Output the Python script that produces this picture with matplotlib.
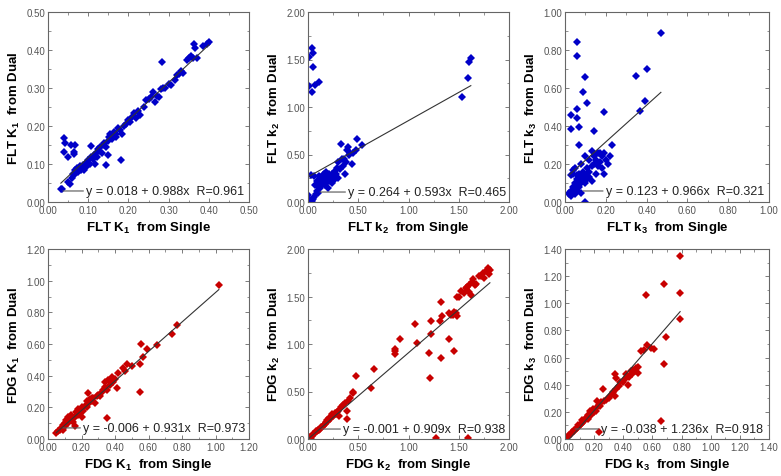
import numpy as np
import matplotlib
matplotlib.use("Agg")
import matplotlib.pyplot as plt
from matplotlib.ticker import MultipleLocator, FormatStrFormatter

plt.rcParams["font.family"] = ["Liberation Sans", "DejaVu Sans"]
plt.rcParams["mathtext.fontset"] = "custom"
plt.rcParams["mathtext.rm"] = "Liberation Sans"
plt.rcParams["mathtext.bf"] = "Liberation Sans:bold"

# ---- FLT K1 ----
flt_k1_single = [0.032, 0.035, 0.041, 0.042, 0.040, 0.050, 0.058, 0.066, 0.065, 0.065, 0.106, 0.118,
                 0.144, 0.149, 0.181, 0.284, 0.362, 0.366,
                 0.050, 0.055, 0.060, 0.062, 0.065, 0.068, 0.070, 0.072, 0.075, 0.078, 0.080, 0.082,
                 0.085, 0.088, 0.090, 0.092, 0.095, 0.098, 0.100, 0.105, 0.108, 0.112, 0.115, 0.120,
                 0.122, 0.125, 0.128, 0.130, 0.135, 0.138, 0.140, 0.145, 0.150, 0.152, 0.155, 0.158,
                 0.160, 0.165, 0.168, 0.170, 0.175, 0.180, 0.185, 0.190, 0.195, 0.200, 0.205, 0.210,
                 0.215, 0.220, 0.225, 0.230, 0.240, 0.245, 0.250, 0.255, 0.260, 0.265, 0.270, 0.275,
                 0.280, 0.285, 0.290, 0.300, 0.305, 0.315, 0.320, 0.325, 0.330, 0.335, 0.345, 0.350,
                 0.355, 0.360, 0.370, 0.385, 0.395, 0.400]
flt_k1_dual = [0.034, 0.033, 0.168, 0.155, 0.132, 0.118, 0.150, 0.150, 0.132, 0.127, 0.147, 0.101,
               0.097, 0.124, 0.110, 0.368, 0.417, 0.405,
               0.052, 0.048, 0.062, 0.075, 0.070, 0.085, 0.080, 0.090, 0.078, 0.088, 0.095, 0.083,
               0.090, 0.098, 0.085, 0.100, 0.092, 0.105, 0.110, 0.100, 0.118, 0.112, 0.125, 0.130,
               0.118, 0.140, 0.135, 0.145, 0.130, 0.150, 0.155, 0.145, 0.160, 0.170, 0.180, 0.165,
               0.175, 0.185, 0.170, 0.180, 0.195, 0.190, 0.178, 0.200, 0.205, 0.215, 0.210, 0.225,
               0.235, 0.220, 0.240, 0.230, 0.250, 0.268, 0.270, 0.275, 0.290, 0.262, 0.280, 0.275,
               0.298, 0.300, 0.300, 0.310, 0.308, 0.320, 0.335, 0.338, 0.345, 0.340, 0.375, 0.380,
               0.385, 0.378, 0.378, 0.410, 0.415, 0.420]

# ---- FLT k2 ----
flt_k2_single = [0.037, 0.010, 0.053, 0.053, 0.013, 0.037, 0.070, 0.113,
                 1.530, 1.595, 1.605, 1.620,
                 0.00, 0.02, 0.03, 0.04, 0.05, 0.03, 0.06, 0.06, 0.08, 0.09, 0.10, 0.10, 0.11, 0.12,
                 0.12, 0.13, 0.14, 0.15, 0.15, 0.16, 0.16, 0.17, 0.18, 0.18, 0.19, 0.20, 0.20, 0.21,
                 0.22, 0.22, 0.23, 0.24, 0.24, 0.25, 0.26, 0.27, 0.28, 0.29, 0.30, 0.30, 0.32, 0.33,
                 0.34, 0.35, 0.36, 0.37, 0.38, 0.39, 0.40, 0.41, 0.42, 0.44, 0.45, 0.48, 0.49, 0.54,
                 0.07, 0.09, 0.11, 0.13, 0.17, 0.14, 0.19, 0.21]
flt_k2_dual = [1.62, 1.53, 1.57, 1.42, 1.22, 1.16, 1.235, 1.26,
               1.105, 1.31, 1.477, 1.52,
               0.07, 0.02, 0.00, 0.01, 0.03, 0.28, 0.27, 0.05, 0.08, 0.12, 0.10, 0.17, 0.20, 0.22,
               0.15, 0.25, 0.18, 0.28, 0.22, 0.30, 0.20, 0.25, 0.22, 0.32, 0.27, 0.24, 0.15, 0.30,
               0.22, 0.27, 0.25, 0.20, 0.30, 0.28, 0.23, 0.33, 0.30, 0.36, 0.25, 0.42, 0.35, 0.61,
               0.45, 0.38, 0.45, 0.30, 0.42, 0.55, 0.58, 0.50, 0.52, 0.40, 0.52, 0.55, 0.66, 0.60,
               0.18, 0.22, 0.27, 0.20, 0.18, 0.23, 0.21, 0.26]

# ---- FLT k3 ----
flt_k3_single = [0.06, 0.06, 0.10, 0.09, 0.11, 0.06, 0.03, 0.06, 0.03, 0.07, 0.19, 0.14, 0.07,
                 0.47, 0.40, 0.35, 0.39, 0.37, 0.23, 0.10,
                 0.02, 0.02, 0.03, 0.03, 0.04, 0.04, 0.05, 0.05, 0.05, 0.06, 0.06, 0.06, 0.07, 0.07,
                 0.07, 0.08, 0.08, 0.08, 0.08, 0.09, 0.09, 0.10, 0.10, 0.10, 0.11, 0.11, 0.12, 0.12,
                 0.12, 0.13, 0.13, 0.14, 0.14, 0.15, 0.15, 0.16, 0.16, 0.17, 0.17, 0.18, 0.18, 0.19,
                 0.19, 0.20, 0.21, 0.22, 0.04, 0.05, 0.06, 0.03, 0.04, 0.13]
flt_k3_dual = [0.84, 0.77, 0.66, 0.58, 0.52, 0.49, 0.46, 0.44, 0.385, 0.395, 0.475, 0.375, 0.30,
               0.89, 0.70, 0.665, 0.53, 0.48, 0.30, 0.00,
               0.04, 0.05, 0.03, 0.06, 0.05, 0.08, 0.04, 0.07, 0.10, 0.06, 0.09, 0.12, 0.08, 0.15,
               0.11, 0.05, 0.10, 0.13, 0.20, 0.12, 0.16, 0.10, 0.14, 0.24, 0.12, 0.18, 0.13, 0.22,
               0.16, 0.19, 0.11, 0.24, 0.20, 0.22, 0.15, 0.26, 0.19, 0.21, 0.26, 0.24, 0.18, 0.26,
               0.15, 0.22, 0.20, 0.24, 0.15, 0.18, 0.14, 0.14, 0.17, 0.27]

# ---- FDG K1 ----
fdg_k1_single = [1.02, 0.77, 0.74, 0.65, 0.57, 0.59, 0.555, 0.55, 0.55, 0.35, 0.16, 0.24, 0.34,
                 0.41, 0.42, 0.45, 0.47, 0.46, 0.50,
                 0.05, 0.06, 0.07, 0.08, 0.09, 0.09, 0.10, 0.10, 0.11, 0.12, 0.12, 0.13, 0.14, 0.14,
                 0.15, 0.16, 0.17, 0.18, 0.18, 0.19, 0.20, 0.20, 0.21, 0.22, 0.23, 0.24, 0.25, 0.26,
                 0.27, 0.28, 0.29, 0.30, 0.31, 0.32, 0.33, 0.34, 0.35, 0.36, 0.37, 0.38, 0.39, 0.40,
                 0.26, 0.23, 0.15]
fdg_k1_dual = [0.975, 0.72, 0.665, 0.595, 0.515, 0.57, 0.60, 0.475, 0.295, 0.135, 0.08, 0.29, 0.36,
               0.325, 0.415, 0.45, 0.475, 0.43, 0.46,
               0.04, 0.05, 0.06, 0.07, 0.06, 0.09, 0.08, 0.10, 0.12, 0.10, 0.14, 0.12, 0.13, 0.15,
               0.13, 0.14, 0.17, 0.15, 0.19, 0.17, 0.14, 0.20, 0.18, 0.21, 0.20, 0.22, 0.25, 0.24,
               0.26, 0.23, 0.27, 0.28, 0.27, 0.30, 0.31, 0.33, 0.31, 0.37, 0.34, 0.39, 0.36, 0.38,
               0.26, 0.24, 0.11]

# ---- FDG k2 ----
fdg_k2_single = [1.27, 1.59, 1.21, 1.32, 1.45, 1.20, 1.40, 0.92, 0.865, 0.865, 0.865, 1.085, 1.065,
                 1.22, 1.22, 1.32, 1.31, 1.33, 1.40, 1.42, 1.47, 1.48, 0.66, 0.627, 0.48, 0.445,
                 0.39, 0.39,
                 1.48, 1.50, 1.52, 1.55, 1.57, 1.58, 1.60, 1.62, 1.63, 1.64, 1.66, 1.67, 1.70, 1.72,
                 1.74, 1.75, 1.77, 1.79, 1.81, 1.80, 1.60, 1.44, 1.45,
                 0.00, 0.02, 0.04, 0.05, 0.07, 0.08, 0.10, 0.12, 0.13, 0.15, 0.17, 0.18, 0.20, 0.22,
                 0.23, 0.25, 0.27, 0.28, 0.30, 0.31, 0.33, 0.35, 0.37, 0.40, 0.42, 0.45, 0.16, 0.19,
                 0.21, 0.24, 0.26, 0.29, 0.03, 0.09, 0.11]
fdg_k2_dual = [0.01, 0.01, 0.64, 0.85, 0.93, 0.91, 1.05, 1.05, 0.95, 0.89, 0.93, 1.01, 1.21,
               1.11, 1.24, 1.445, 1.24, 1.30, 1.33, 1.31, 1.33, 1.29, 0.74, 0.54, 0.66, 0.49,
               0.29, 0.21,
               1.50, 1.49, 1.56, 1.54, 1.59, 1.60, 1.55, 1.52, 1.65, 1.68, 1.62, 1.63, 1.72, 1.72,
               1.75, 1.70, 1.77, 1.80, 1.78, 1.74, 1.62, 1.31, 1.34,
               0.00, 0.02, 0.03, 0.05, 0.06, 0.08, 0.09, 0.11, 0.13, 0.14, 0.16, 0.18, 0.19, 0.21,
               0.23, 0.24, 0.27, 0.26, 0.29, 0.24, 0.34, 0.36, 0.38, 0.40, 0.43, 0.48, 0.15, 0.20,
               0.22, 0.26, 0.25, 0.28, 0.01, 0.08, 0.10]

# ---- FDG k3 ----
fdg_k3_single = [0.79, 0.68, 0.79, 0.555, 0.79, 0.69, 0.68, 0.66, 0.23, 0.565, 0.52, 0.54, 0.59,
                 0.61, 0.34, 0.35, 0.34, 0.26,
                 0.00, 0.01, 0.02, 0.03, 0.04, 0.05, 0.06, 0.07, 0.08, 0.09, 0.10, 0.11, 0.12, 0.13,
                 0.14, 0.15, 0.16, 0.17, 0.18, 0.19, 0.20, 0.21, 0.22, 0.23, 0.25, 0.27, 0.28, 0.30,
                 0.31, 0.33, 0.35, 0.37, 0.38, 0.40, 0.41, 0.42, 0.43, 0.44, 0.45, 0.46, 0.47, 0.48,
                 0.49, 0.50, 0.50, 0.12, 0.18, 0.16, 0.09, 0.06, 0.21, 0.24]
fdg_k3_dual = [1.35, 1.14, 1.075, 1.06, 0.885, 0.75, 0.55, 0.13, 0.05, 0.69, 0.65, 0.655, 0.67,
               0.66, 0.48, 0.45, 0.32, 0.37,
               0.00, 0.01, 0.02, 0.03, 0.04, 0.05, 0.06, 0.07, 0.08, 0.09, 0.10, 0.11, 0.12, 0.13,
               0.15, 0.16, 0.18, 0.21, 0.19, 0.22, 0.20, 0.23, 0.28, 0.25, 0.27, 0.28, 0.29, 0.30,
               0.32, 0.35, 0.37, 0.39, 0.42, 0.42, 0.44, 0.48, 0.40, 0.46, 0.50, 0.48, 0.51, 0.50,
               0.52, 0.53, 0.49, 0.14, 0.18, 0.15, 0.10, 0.07, 0.21, 0.24]

tracers = ["FLT", "FLT", "FLT", "FDG", "FDG", "FDG"]
params = ["K", "k", "k", "K", "k", "k"]
subs = ["1", "2", "3", "1", "2", "3"]
intercepts = [0.018, 0.264, 0.123, -0.006, -0.001, -0.038]
slopes = [0.988, 0.593, 0.966, 0.931, 0.909, 1.236]
r_values = [0.961, 0.465, 0.321, 0.973, 0.938, 0.918]
axis_max = [0.5, 2.0, 1.0, 1.2, 2.0, 1.4]
major_step = [0.1, 0.5, 0.2, 0.2, 0.5, 0.2]
singles = [flt_k1_single, flt_k2_single, flt_k3_single, fdg_k1_single, fdg_k2_single, fdg_k3_single]
duals = [flt_k1_dual, flt_k2_dual, flt_k3_dual, fdg_k1_dual, fdg_k2_dual, fdg_k3_dual]
# leader line start and text start (data coords) for the fit annotation
leader_xy = [(0.037, 0.029), (0.12, 0.105), (0.088, 0.058), (0.09, 0.07), (0.14, 0.105), (0.069, 0.074)]
text_x = [0.095, 0.40, 0.20, 0.21, 0.35, 0.25]

fig = plt.figure(figsize=(7.81, 4.77), dpi=100)
lefts = [48, 308, 565]
widths = [201, 201, 204]
bottoms = [203, 440]
W, H = 781, 477

for i in range(6):
    row, col = divmod(i, 3)
    ax = fig.add_axes([lefts[col] / W, 1 - bottoms[row] / H, widths[col] / W, 190 / H])
    color = "#0000c8" if row == 0 else "#c80000"
    x = np.array(singles[i])
    y = np.array(duals[i])
    ax.plot(x, y, "D", color=color, markersize=4, markeredgewidth=0)

    xs = np.array([x.min(), x.max()])
    ax.plot(xs, intercepts[i] + slopes[i] * xs, color="#333333", lw=0.8)

    txt = "y = %.3f + %.3fx  R=%.3f" % (intercepts[i], slopes[i], r_values[i])
    ax.annotate(txt, xy=leader_xy[i], xytext=(text_x[i], leader_xy[i][1]),
                va="center", ha="left", fontsize=9, color="#222222",
                arrowprops=dict(arrowstyle="-", color="#555555", lw=0.8, shrinkA=0, shrinkB=0))

    m = axis_max[i]
    ax.set_xlim(0, m)
    ax.set_ylim(0, m)
    ax.xaxis.set_major_locator(MultipleLocator(major_step[i]))
    ax.yaxis.set_major_locator(MultipleLocator(major_step[i]))
    ax.xaxis.set_minor_locator(MultipleLocator(major_step[i] / 2))
    ax.yaxis.set_minor_locator(MultipleLocator(major_step[i] / 2))
    ax.xaxis.set_major_formatter(FormatStrFormatter("%.2f"))
    ax.yaxis.set_major_formatter(FormatStrFormatter("%.2f"))
    ax.tick_params(which="both", direction="in", top=True, right=True, color="#666666",
                   labelsize=7, labelcolor="#555555", pad=2)
    ax.tick_params(which="major", length=3, width=0.6)
    ax.tick_params(which="minor", length=1.8, width=0.5)
    for s in ax.spines.values():
        s.set_color("#666666")
        s.set_linewidth(0.8)

    name = "%s %s$_\\mathbf{%s}$" % (tracers[i], params[i], subs[i])
    ax.set_xlabel(name + "  from Single", fontsize=9.5, fontweight="bold", labelpad=3)
    ax.set_ylabel(name + "  from Dual", fontsize=9.5, fontweight="bold", labelpad=3)

fig.savefig("out.png", dpi=100)
